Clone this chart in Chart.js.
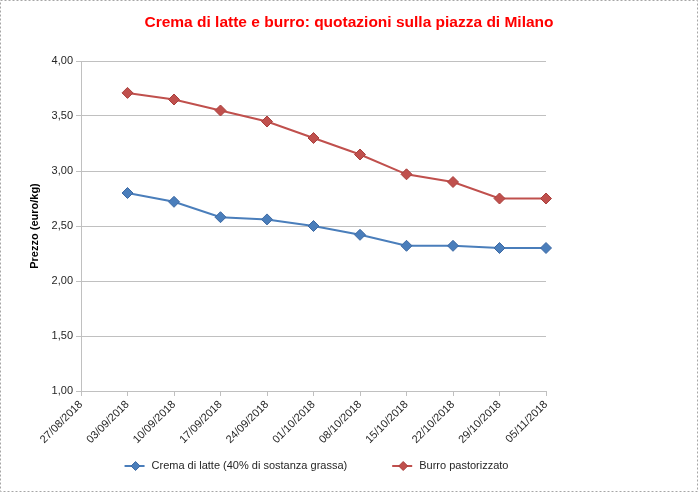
<!DOCTYPE html>
<html>
<head>
<meta charset="utf-8">
<script src="https://cdn.jsdelivr.net/npm/chart.js@4.4.0/dist/chart.umd.min.js"></script>
<style>
  html, body { margin: 0; padding: 0; background: #fff; }
  #wrap { width: 698px; height: 492px; }
</style>
</head>
<body>
<div id="wrap"><canvas id="chart" width="698" height="492"></canvas></div>
<script>
const FONT = '"Liberation Sans", Arial, sans-serif';
Chart.defaults.font.family = FONT;
Chart.defaults.color = "#262626";

const dates = ["27/08/2018", "03/09/2018", "10/09/2018", "17/09/2018", "24/09/2018", "01/10/2018",
  "08/10/2018", "15/10/2018", "22/10/2018", "29/10/2018", "05/11/2018"];
const cremaPrices = [null, 2.80, 2.72, 2.58, 2.56, 2.50, 2.42, 2.32, 2.32, 2.30, 2.30];
const burroPrices = [null, 3.71, 3.65, 3.55, 3.45, 3.30, 3.15, 2.97, 2.90, 2.75, 2.75];
const seriesNames = ["Crema di latte (40% di sostanza grassa)", "Burro pastorizzato"];
const titleText = "Crema di latte e burro: quotazioni sulla piazza di Milano";
const yTitle = "Prezzo (euro/kg)";

const lineColors = ["#4a7ebb", "#c0504d"];
const markerEdges = ["#3d69a3", "#a9403d"];
const gridColor = "#c0c0c0";

function diamond(ctx, x, y, r, fill, edge) {
  ctx.beginPath();
  ctx.moveTo(x - r, y);
  ctx.lineTo(x, y - r);
  ctx.lineTo(x + r, y);
  ctx.lineTo(x, y + r);
  ctx.closePath();
  ctx.fillStyle = fill;
  ctx.fill();
  ctx.strokeStyle = edge;
  ctx.lineWidth = 1;
  ctx.stroke();
}

// frame + excel-like legend (line with diamond)
const excelLegend = {
  id: "excelLegend",
  afterDraw(chart) {
    const ctx = chart.ctx;
    const area = chart.chartArea;
    ctx.save();
    ctx.strokeStyle = "#a6a6a6";
    ctx.lineWidth = 1;
    ctx.setLineDash([2, 2]);
    ctx.strokeRect(0.5, 0.5, chart.width - 1, chart.height - 1);
    ctx.setLineDash([]);

    ctx.font = "11px " + FONT;
    const sets = chart.data.datasets;
    const lineW = 20, gap = 7, itemGap = 45;
    const widths = sets.map(d => ctx.measureText(d.label).width);
    const total = widths.reduce((s, w) => s + lineW + gap + w, 0) + itemGap * (sets.length - 1);
    let x = (area.left + area.right) / 2 - total / 2 + 3;
    const y = 466;
    sets.forEach((d, i) => {
      ctx.strokeStyle = d.borderColor;
      ctx.lineWidth = 2;
      ctx.beginPath();
      ctx.moveTo(x, y);
      ctx.lineTo(x + lineW, y);
      ctx.stroke();
      diamond(ctx, x + lineW / 2 + 1, y, 4.5, d.pointBackgroundColor, d.pointBorderColor);
      ctx.fillStyle = "#262626";
      ctx.textBaseline = "middle";
      ctx.textAlign = "left";
      ctx.fillText(d.label, x + lineW + gap, y);
      x += lineW + gap + widths[i] + itemGap;
    });
    ctx.restore();
  }
};

new Chart(document.getElementById("chart"), {
  type: "line",
  data: {
    labels: dates,
    datasets: [
      {
        label: seriesNames[0],
        data: cremaPrices,
        borderColor: lineColors[0],
        borderWidth: 2,
        pointStyle: "rectRot",
        pointRadius: 5.5,
        pointBackgroundColor: lineColors[0],
        pointBorderColor: markerEdges[0],
        pointBorderWidth: 1,
        tension: 0
      },
      {
        label: seriesNames[1],
        data: burroPrices,
        borderColor: lineColors[1],
        borderWidth: 2,
        pointStyle: "rectRot",
        pointRadius: 5.5,
        pointBackgroundColor: lineColors[1],
        pointBorderColor: markerEdges[1],
        pointBorderWidth: 1,
        tension: 0
      }
    ]
  },
  options: {
    responsive: false,
    animation: false,
    devicePixelRatio: 1,
    layout: { padding: { left: 0, right: 0, top: 0, bottom: 40 } },
    plugins: {
      legend: { display: false },
      tooltip: { enabled: false },
      title: {
        display: true,
        text: titleText,
        color: "#ff0000",
        font: { size: 15.5, weight: "bold" },
        padding: { top: 13, bottom: 29.4 }
      }
    },
    scales: {
      x: {
        offset: false,
        grid: { drawOnChartArea: false, color: gridColor, tickLength: 5 },
        border: { color: gridColor },
        ticks: { minRotation: 45, maxRotation: 45, padding: 2, autoSkip: false, font: { size: 11 } },
        afterFit(scale) { scale.height = 61; }
      },
      y: {
        min: 1,
        max: 4,
        grid: { color: gridColor, tickLength: 5 },
        border: { color: gridColor },
        ticks: {
          stepSize: 0.5,
          padding: 3,
          font: { size: 11 },
          callback: v => v.toFixed(2).replace(".", ",")
        },
        title: {
          display: true,
          text: yTitle,
          color: "#000",
          font: { size: 11, weight: "bold" },
          padding: { top: 28.4, bottom: 0 }
        },
        afterFit(scale) { scale.width = 81; }
      },
      // empty right-hand spacer so the plot ends where the original does
      spacer: {
        type: "linear",
        position: "right",
        display: true,
        grid: { display: false },
        border: { display: false },
        ticks: { display: false },
        afterFit(scale) { scale.width = 152; }
      }
    }
  },
  plugins: [excelLegend]
});
</script>
</body>
</html>
